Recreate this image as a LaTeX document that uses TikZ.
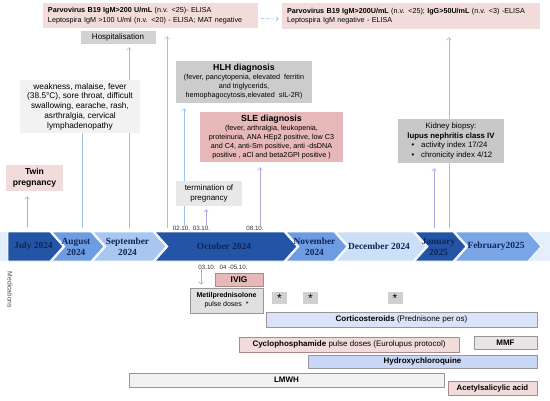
\documentclass[tikz,border=0pt]{standalone}
\usepackage{fontspec}
\setmainfont{Liberation Serif}
\setsansfont{Liberation Sans}
\usetikzlibrary{arrows.meta}

\definecolor{pinkbg}{RGB}{242,220,219}
\definecolor{rosebg}{RGB}{230,184,183}
\definecolor{hlhgray}{RGB}{204,204,204}
\definecolor{hospgray}{RGB}{210,210,210}
\definecolor{symgray}{RGB}{242,242,242}
\definecolor{termgray}{RGB}{232,232,232}
\definecolor{kidgray}{RGB}{200,200,200}
\definecolor{linkblue}{RGB}{157,195,230}
\definecolor{lavender}{RGB}{172,172,228}
\definecolor{bandpale}{RGB}{228,239,251}
\definecolor{monthdark}{RGB}{35,84,165}
\definecolor{monthmid}{RGB}{110,156,226}
\definecolor{monthlight}{RGB}{168,199,240}
\definecolor{monthpale}{RGB}{203,224,248}
\definecolor{monthfeb}{RGB}{122,166,232}
\definecolor{monthtext}{RGB}{14,38,88}
\definecolor{corticobg}{RGB}{218,227,248}
\definecolor{hcqbg}{RGB}{201,214,245}
\definecolor{mmfbg}{RGB}{233,229,229}
\definecolor{metilbg}{RGB}{224,224,224}
\definecolor{stargray}{RGB}{208,208,208}
\definecolor{pinkline}{RGB}{175,135,135}
\definecolor{grayline}{RGB}{150,150,150}

\begin{document}
\begin{tikzpicture}[x=1pt, y=-1pt, line join=round, line cap=round,
    box/.style={inner sep=0pt, align=center, font=\sffamily\fontsize{8}{9.7}\selectfont},
    month/.style={inner sep=0pt, align=center, text=monthtext, font=\rmfamily\bfseries\fontsize{9.4}{11}\selectfont},
    date/.style={inner sep=0pt, text=black!80, font=\sffamily\fontsize{6.2}{7}\selectfont},
    link/.style={draw=#1, line width=0.6pt},
    link/.default=linkblue,
    up/.style={link=#1, -{Straight Barb[length=2.5pt,width=4.5pt]}, shorten >=5pt},
    up/.default=linkblue,
    med/.style={box, draw=#1, line width=0.5pt, font=\sffamily\fontsize{8}{9.5}\selectfont}]
    \useasboundingbox (0,0) rectangle (550,400);

    % time line
    \fill[bandpale] (0,232) rectangle (550,261);
    \foreach \xa/\xb/\nd/\col/\name/\txt in {
        8/63/0/monthdark/jul/{July 2024},
        52/104/13/monthmid/aug/{August\\2024},
        93/166/13/monthlight/sep/{September\\2024},
        155/297/13/monthdark/oct/{October 2024},
        286/347/13/monthmid/nov/{November\\2024},
        336/426/13/monthpale/dec/{December 2024},
        415/466/13/monthdark/jan/{January\\2025},
        455/541/13/monthfeb/feb/{February2025}}
    {
        \filldraw[fill=\col, draw=white, line width=0.8pt] (\xa,232) -- ({\xb-13},232) -- (\xb,246.5)
            -- ({\xb-13},261) -- (\xa,261) -- ({\xa+\nd},246.5) -- cycle;
        \node[month] (\name) at ({(\xa+\xb)/2-2},246.5) {\txt};
    }

    \coordinate (twinpt) at (27,227);
    \coordinate (sympt) at (82,228);
    \coordinate (hosppt) at (129,228);
    \coordinate (parvopt) at (167,228);
    \coordinate (kidpt) at (434,228);
    \coordinate (biopsypt) at (449,228);

    % serology
    \node[box, fill=pinkbg, text width=205pt, inner xsep=5pt, minimum height=25pt, align=left,
        font=\sffamily\fontsize{7.2}{9.5}\selectfont] (parvoA) at (150.5,15.5)
        {\textbf{Parvovirus B19 IgM>200 U/mL} (n.v. <25)- ELISA\\
         Leptospira IgM >100 U/ml (n.v. <20) - ELISA; MAT negative};
    \node[box, fill=pinkbg, text width=248pt, inner xsep=5pt, minimum height=26pt, align=left,
        font=\sffamily\fontsize{7.2}{9.5}\selectfont] (parvoB) at (411,16)
        {\textbf{Parvovirus B19 IgM>200U/mL} (n.v. <25); \textbf{IgG>50U/mL} (n.v. <3) -ELISA\\
         Leptospira IgM negative - ELISA};
    \draw[link, densely dashed, -{Straight Barb[length=2.5pt,width=4.5pt]}]
        ([xshift=3pt,yshift=-3pt]parvoA.east) -- ([xshift=-3pt,yshift=-3pt]parvoB.west);

    \node[box, fill=hospgray, minimum width=75pt, minimum height=13pt] (hosp) at (118,37.5) {Hospitalisation};
    \draw[up, shorten >=3pt] (hosppt) -- (hosppt |- hosp.south);

    \node[box, fill=symgray, minimum width=120pt, minimum height=53pt, font=\sffamily\fontsize{8.3}{9.7}\selectfont] (sym) at (80,106.5)
        {weakness, malaise, fever\\(38.5°C), sore throat, difficult\\swallowing, earache, rash,\\asrthralgia, cervical\\lymphadenopathy};
    \draw[link] (sympt) -- (sympt |- sym.south);

    \draw[up, shorten >=8pt] (parvopt) -- (parvopt |- parvoA.south);

    % diagnoses
    \node[box, fill=hlhgray, minimum width=136pt, minimum height=42pt, font=\sffamily\fontsize{7.2}{9}\selectfont] (hlh) at (244,82)
        {{\bfseries\fontsize{8.8}{10}\selectfont HLH diagnosis}\\(fever, pancytopenia, elevated \ ferritin\\and triglycerids,\\hemophagocytosis,elevated \ sIL-2R)};
    \node[date] (d0210) at (181.5,228) {02.10.};
    \node[date] (d0310) at (201.5,228) {03.10.};
    \node[date] (d0810) at (255,228) {08.10.};
    \draw[up] ([xshift=2.5pt]d0210.north) -- ([xshift=2.5pt]d0210.north |- hlh.south);

    \node[box, fill=termgray, minimum width=66pt, minimum height=25pt] (term) at (209,193.5) {termination of\\pregnancy};
    \draw[up=lavender, shorten >=3pt] ([xshift=4.5pt]d0310.north) -- ([xshift=4.5pt]d0310.north |- term.south);

    \node[box, fill=rosebg, minimum width=143pt, minimum height=50pt, font=\sffamily\fontsize{7.2}{9}\selectfont] (sle) at (271.5,137)
        {{\bfseries\fontsize{8.8}{10}\selectfont SLE diagnosis}\\(fever, arthralgia, leukopenia,\\proteinuria, ANA HEp2 positive, low C3\\and C4, anti-Sm positive, anti -dsDNA\\positive , aCl and beta2GPI positive )};
    \draw[up=lavender] ([xshift=5pt]d0810.north) -- ([xshift=5pt]d0810.north |- sle.south);

    \node[box, fill=pinkbg, minimum width=57pt, minimum height=26pt, font=\sffamily\bfseries\fontsize{8.6}{11}\selectfont] (twin) at (34.5,178)
        {Twin\\pregnancy};
    \draw[up=lavender] (twinpt) -- (twinpt |- twin.south);

    % kidney biopsy
    \draw[up, shorten >=8pt] (biopsypt) -- (biopsypt |- parvoB.south);
    \node[box, fill=kidgray, minimum width=106pt, minimum height=44pt, font=\sffamily\fontsize{7.8}{9.7}\selectfont] (kidney) at (451,141)
        {Kidney biopsy:\\\textbf{lupus nephritis class IV}\\
         \makebox[79pt][l]{\textbullet\hspace{7pt}activity index 17/24}\\
         \makebox[79pt][l]{\textbullet\hspace{7pt}chronicity index 4/12}};
    \draw[up=lavender] (kidpt) -- (kidpt |- kidney.south);

    % medications
    \node[rotate=-90, inner sep=0pt, text=black!70, font=\sffamily\fontsize{6.8}{8}\selectfont] (medlabel) at (10,290) {Medications};
    \node[date] (d0405) at (223,267) {03.10. \ 04 -05.10.};
    \node[med=pinkline, fill=rosebg, minimum width=48pt, minimum height=13pt, font=\sffamily\bfseries\fontsize{8.3}{9}\selectfont] (ivig) at (239,279.5) {IVIG};
    \node[med=grayline, fill=metilbg, minimum width=73pt, minimum height=25pt, font=\sffamily\fontsize{7}{9}\selectfont] (metil) at (226.5,300.5)
        {\textbf{Metilprednisolone}\\pulse doses \ *};
    \draw[up=lavender, shorten >=3pt] ([xshift=-22pt]d0405.south) -- ([xshift=-22pt]d0405.south |- metil.north);
    \foreach \sx/\name in {279.5/starA, 310.5/starB, 395/starC}
        \node[box, fill=stargray, minimum width=15pt, minimum height=12pt, font=\sffamily\fontsize{12}{12}\selectfont] (\name) at (\sx,298) {\raisebox{-3pt}{*}};
    \node[med=grayline, fill=corticobg, minimum width=271pt, minimum height=15pt] (cortico) at (401.5,319.5)
        {\textbf{Corticosteroids} (Prednisone per os)};
    \node[med=pinkline, fill=pinkbg, minimum width=220pt, minimum height=15pt] (cyclo) at (349,344.5)
        {\textbf{Cyclophosphamide} pulse doses (Eurolupus protocol)};
    \node[med=grayline, fill=mmfbg, minimum width=63pt, minimum height=13pt, font=\sffamily\bfseries\fontsize{8}{9}\selectfont] (mmf) at (505.5,342.5) {MMF};
    \node[med=grayline, fill=hcqbg, minimum width=229pt, minimum height=13pt, font=\sffamily\bfseries\fontsize{8}{9}\selectfont] (hcq) at (422.5,361.5) {Hydroxychloroquine};
    \node[med=grayline, fill=symgray, minimum width=315pt, minimum height=14pt, font=\sffamily\bfseries\fontsize{8}{9}\selectfont] (lmwh) at (286.5,380) {LMWH};
    \node[med=pinkline, fill=pinkbg, minimum width=89pt, minimum height=14pt, font=\sffamily\bfseries\fontsize{7.8}{9}\selectfont] (asa) at (492.5,388) {Acetylsalicylic acid};
\end{tikzpicture}
\end{document}
